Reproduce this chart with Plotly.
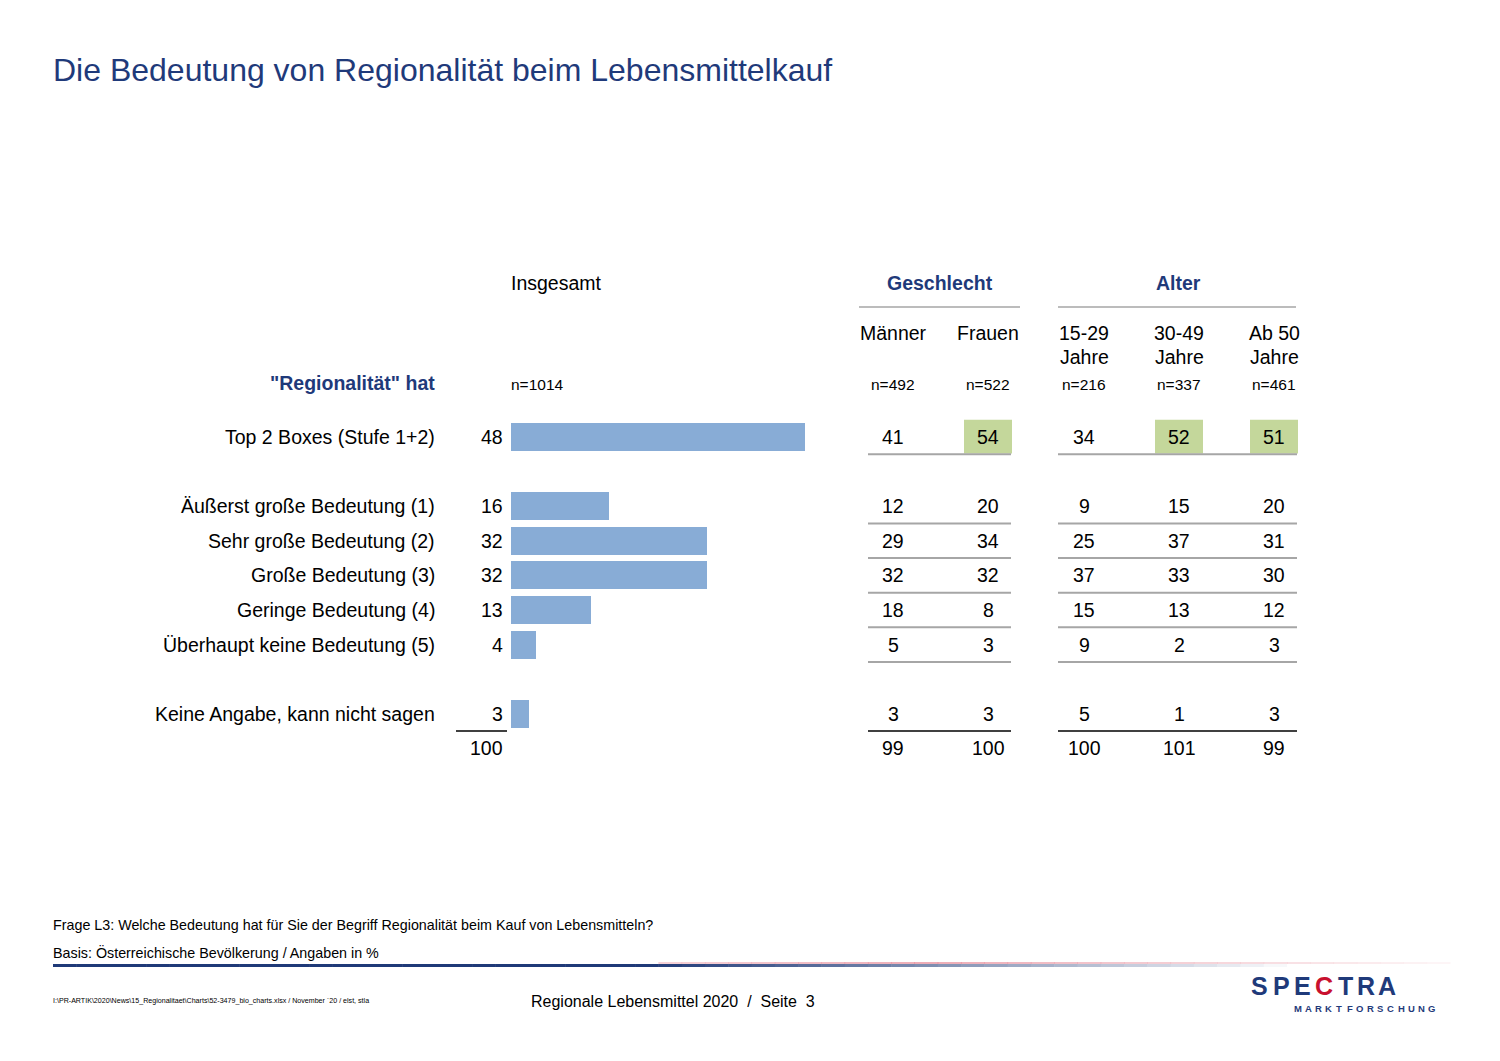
import plotly.graph_objects as go

# ---------------- data ----------------
row_labels = ["Top 2 Boxes (Stufe 1+2)", "Äußerst große Bedeutung (1)", "Sehr große Bedeutung (2)",
              "Große Bedeutung (3)", "Geringe Bedeutung (4)", "Überhaupt keine Bedeutung (5)",
              "Keine Angabe, kann nicht sagen"]
row_pos = [0, 2, 3, 4, 5, 6, 8]
total_pos = 9
insgesamt = [48, 16, 32, 32, 13, 4, 3]
insgesamt_total = 100

col_names = ["Männer", "Frauen", "15-29<br>Jahre", "30-49<br>Jahre", "Ab 50<br>Jahre"]
col_n = ["n=492", "n=522", "n=216", "n=337", "n=461"]
maenner = [41, 12, 29, 32, 18, 5, 3]
frauen = [54, 20, 34, 32, 8, 3, 3]
j15_29 = [34, 9, 25, 37, 15, 9, 5]
j30_49 = [52, 15, 37, 33, 13, 2, 1]
ab50 = [51, 20, 31, 30, 12, 3, 3]
col_totals = [99, 100, 100, 101, 99]
top2_highlight = [False, True, False, True, True]

OFF = 8  # browser body margin
W, H = 1500 - OFF, 1061 - OFF
FONT = "Liberation Sans, Arial, sans-serif"
BLUE = "#1f3a7a"
BAR = "#88acd6"
GREEN = "#c4d79b"
GRAY = "#a6a6a6"

ROW0_PX = 437.0 - OFF
UNIT = 34.6

def px(x):
    return (x - OFF) / W

def py(y):
    return 1 - (y - OFF) / H

fig = go.Figure()

# bars (x axis: bar base at pixel 511, 6.125 px per %)
fig.add_trace(go.Bar(
    x=insgesamt, y=row_pos, orientation="h", width=0.81,
    marker=dict(color=BAR, line=dict(width=0)), hoverinfo="skip", showlegend=False))

x0_px = 511
x_end_px = x0_px + 100 * 6.125
fig.update_layout(
    width=W, height=H, margin=dict(l=0, r=0, t=0, b=0),
    paper_bgcolor="white", plot_bgcolor="rgba(0,0,0,0)",
    font=dict(family=FONT, color="black"),
    xaxis=dict(domain=[px(x0_px), px(x_end_px)], range=[0, 100], visible=False, fixedrange=True),
    yaxis=dict(domain=[0, 1], range=[(H - ROW0_PX) / UNIT, -ROW0_PX / UNIT], visible=False, fixedrange=True),
    bargap=0,
)

ann = []
shapes = []

def text(x, y, s, size=19.5, color="black", xanchor="center", yref="paper", bold=False):
    if bold:
        s = "<b>" + s + "</b>"
    ann.append(dict(x=x, y=y, xref="paper", yref=yref, text=s, showarrow=False, borderpad=0,
                    xanchor=xanchor, yanchor="middle", font=dict(family=FONT, size=size, color=color)))

def hline(x0, x1, y, color, width, yref="paper"):
    shapes.append(dict(type="line", xref="paper", yref=yref, x0=x0, x1=x1, y0=y, y1=y,
                       line=dict(color=color, width=width)))

# title
text(px(52), py(70), "Die Bedeutung von Regionalität beim Lebensmittelkauf", size=32, color=BLUE, xanchor="left")

# headers
text(px(510), py(283), "Insgesamt", xanchor="left")
text(px(940), py(283), "Geschlecht", color=BLUE, bold=True)
text(px(1178), py(283), "Alter", color=BLUE, bold=True)
hline(px(859), px(1020), py(307), GRAY, 1.5)
hline(px(1058), px(1296), py(307), GRAY, 1.5)

col_x = [893, 988, 1084, 1179, 1274]
for cx, nm, n in zip(col_x, col_names, col_n):
    if "<br>" in nm:
        a, b = nm.split("<br>")
        text(px(cx), py(333), a)
        text(px(cx), py(357), b)
    else:
        text(px(cx), py(333), nm)
    text(px(cx), py(384), n, size=15.5)

text(px(436), py(383), "\"Regionalität\" hat", color=BLUE, bold=True, xanchor="right")
text(px(510), py(384), "n=1014", size=15.5, xanchor="left")

# green highlight for top-2 row
for cx, hl in zip(col_x, top2_highlight):
    if hl:
        shapes.append(dict(type="rect", xref="paper", yref="y", x0=px(cx - 24), x1=px(cx + 24),
                           y0=row_pos[0] - 0.5, y1=row_pos[0] + 0.48, fillcolor=GREEN,
                           line=dict(width=0), layer="below"))

cols = [maenner, frauen, j15_29, j30_49, ab50]
for i, (lab, rp, v) in enumerate(zip(row_labels, row_pos, insgesamt)):
    text(px(436), rp, lab, xanchor="right", yref="y")
    text(px(504), rp, str(v), xanchor="right", yref="y")
    for cx, col in zip(col_x, cols):
        text(px(cx), rp, str(col[i]), yref="y")
    last = (i == len(row_labels) - 1)
    color = "black" if last else GRAY
    wdt = 1.5 if last else 2
    hline(px(868), px(1011), rp + 0.5, color, wdt, yref="y")
    hline(px(1058), px(1297), rp + 0.5, color, wdt, yref="y")
    if last:
        hline(px(456), px(507), rp + 0.5, "black", 1.5, yref="y")

# totals
text(px(504), total_pos, str(insgesamt_total), xanchor="right", yref="y")
for cx, t in zip(col_x, col_totals):
    text(px(cx), total_pos, str(t), yref="y")

# footer texts
text(px(52), py(925), "Frage L3: Welche Bedeutung hat für Sie der Begriff Regionalität beim Kauf von Lebensmitteln?", size=14.3, xanchor="left")
text(px(52), py(952), "Basis: Österreichische Bevölkerung / Angaben in %", size=14.3, xanchor="left")
text(px(52), py(1001), "I:\\PR-ARTIK\\2020\\News\\15_Regionalitaet\\Charts\\52-3479_bio_charts.xlsx / November ´20 / elst, stla", size=7.1, xanchor="left")
text(px(673), py(1001), "Regionale Lebensmittel 2020  /  Seite  3", size=16)

# footer gradient line
def mix(c1, c2, t):
    return "rgb(%d,%d,%d)" % tuple(round(a + (b - a) * t) for a, b in zip(c1, c2))

navy = (31, 58, 120)
white = (255, 255, 255)
red = (220, 90, 110)
n_seg = 60
xa, xb = 53, 1450
for k in range(n_seg):
    s0 = xa + (xb - xa) * k / n_seg
    s1 = xa + (xb - xa) * (k + 1) / n_seg
    xm = (s0 + s1) / 2
    tb = 0 if xm < 650 else min(1, (xm - 650) / 650)
    hline(px(s0), px(s1 + 0.5), py(965.5), mix(navy, white, tb), 3)
    if xm > 650:
        tr = (xm - 650) / 800
        tr = abs(tr - 0.35) / 0.65
        hline(px(s0), px(s1 + 0.5), py(963), mix(red, white, min(1, tr * 0.9)), 1)

# logo
logo_letters = "SPECTRA"
lx = [1259, 1281, 1302, 1324, 1345, 1366, 1387]
for ch, x in zip(logo_letters, lx):
    col = "#c8102e" if ch == "C" else BLUE
    text(px(x), py(986), ch, size=25, color=col, bold=True)
sub = "MARKTFORSCHUNG"
for k, ch in enumerate(sub):
    text(px(1298 + k * 10.3), py(1008), ch, size=9.5, color=BLUE, bold=True)

fig.update_layout(annotations=ann, shapes=shapes)
fig.write_html("out.html")
